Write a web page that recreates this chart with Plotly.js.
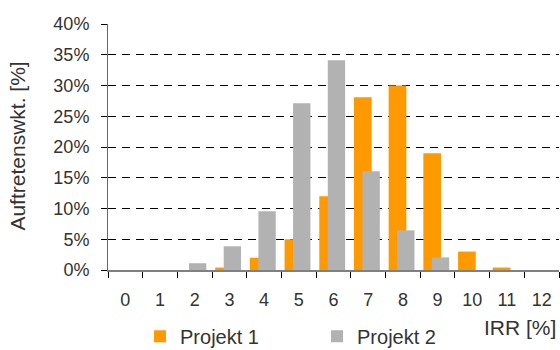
<!DOCTYPE html>
<html>
<head>
<meta charset="utf-8">
<script src="https://cdn.plot.ly/plotly-3.0.1.min.js"></script>
<style>html,body{margin:0;padding:0;background:#fff;}#chart{width:560px;height:350px;}</style>
</head>
<body>
<div id="chart"></div>
<script>
var categories = ['0','1','2','3','4','5','6','7','8','9','10','11','12'];
var projekt1 = [0, 0, 0, 0.4, 2, 5, 12, 28.1, 30, 19, 3, 0.4, 0];
var projekt2 = [0, 0, 1.1, 3.85, 9.55, 27.1, 34.1, 16.05, 6.45, 2.05, 0, 0, 0];
var yTicks = [0, 5, 10, 15, 20, 25, 30, 35, 40];
var yTickLabels = ['0%', '5%', '10%', '15%', '20%', '25%', '30%', '35%', '40%'];

var fam = 'Liberation Sans, Arial, sans-serif';
var tickFont = {family: fam, size: 18, color: '#333333'};
var titleFont = {family: fam, size: 21, color: '#333333'};
var legendFont = {family: fam, size: 20, color: '#333333'};

var traces = [
  {type: 'bar', name: 'Projekt 1', x: categories, y: projekt1,
   marker: {color: '#FF9900'}, width: 0.51, offset: -0.41, hoverinfo: 'none'},
  {type: 'bar', name: 'Projekt 2', x: categories, y: projekt2,
   marker: {color: '#B2B2B2'}, width: 0.5, offset: -0.165, hoverinfo: 'none'}
];

var layout = {
  width: 560, height: 350,
  margin: {l: 108, r: 1, t: 24, b: 80, autoexpand: false},
  paper_bgcolor: '#fff', plot_bgcolor: '#fff',
  barmode: 'overlay',
  font: tickFont,
  showlegend: true,
  legend: {orientation: 'h', x: 0.071, xanchor: 'left', y: -0.19, yanchor: 'top',
           font: legendFont, entrywidth: 132, itemwidth: 30, traceorder: 'normal', bgcolor: 'rgba(0,0,0,0)'},
  xaxis: {type: 'category', categoryorder: 'array', categoryarray: categories,
          tickson: 'boundaries', ticks: 'outside', ticklen: 6, tickcolor: '#000', tickwidth: 1,
          showline: true, linecolor: '#808080', linewidth: 2, showgrid: false, zeroline: false,
          tickfont: tickFont, ticklabelstandoff: 12, fixedrange: true},
  yaxis: {range: [0, 40], tickvals: yTicks, ticktext: yTickLabels,
          ticks: 'outside', ticklen: 6, tickcolor: '#000', tickwidth: 1,
          showline: true, linecolor: '#666', linewidth: 1,
          showgrid: true, gridcolor: '#000', gridwidth: 1, griddash: '8px,6px',
          zeroline: false, tickfont: tickFont, ticklabelstandoff: 8, fixedrange: true},
  annotations: [
    {text: 'IRR [%]', xref: 'paper', yref: 'paper', x: 0.998, xanchor: 'right',
     y: -0.232, yanchor: 'middle', showarrow: false, font: titleFont},
    {text: 'Auftretenswkt. [%]', xref: 'paper', yref: 'paper', x: -0.2, xanchor: 'center',
     y: 0.505, yanchor: 'middle', textangle: -90, showarrow: false, font: titleFont}
  ]
};

Plotly.newPlot('chart', traces, layout, {displayModeBar: false, staticPlot: true});
</script>
</body>
</html>
